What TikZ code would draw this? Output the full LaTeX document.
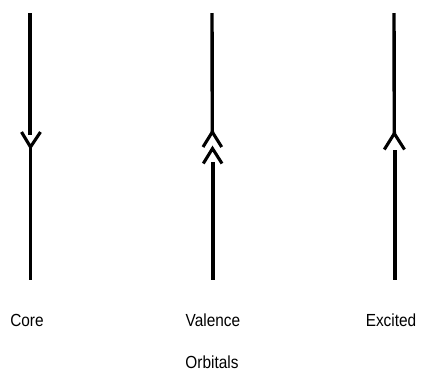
\documentclass[tikz,border=0pt]{standalone}
\usepackage{fontspec}
\setmainfont{Liberation Sans}
\newfontfamily\labfont[FakeStretch=0.88]{Liberation Sans}
\begin{document}
\begin{tikzpicture}[x=1pt,y=-1pt,
  orb/.style={line width=3.4pt},
  chev/.style={line width=3.1pt,line join=miter},
  lab/.style={font=\labfont\fontsize{17.5}{20}\selectfont,inner sep=0pt}]
\useasboundingbox (0,0) rectangle (423,373);
% Core
\coordinate (ct) at (30,13);
\coordinate (cu) at (30,135);
\coordinate (cv) at (30.5,147);
\coordinate (cb) at (30.5,280);
\draw[orb] (ct) -- (cu);
\draw[orb] (cv) -- (cb);
\draw[chev] (21.5,132) -- (cv) -- (40.5,132);
% Valence
\coordinate (vt) at (212,13);
\coordinate (vv1) at (212.3,132);
\coordinate (vv2) at (212.5,148.5);
\coordinate (vl) at (213,162);
\coordinate (vb) at (213,280);
\draw[orb] (vt) -- (vv1);
\draw[orb] (vl) -- (vb);
\draw[chev] (203,147) -- (vv1) -- (221.7,147);
\draw[chev] (203.3,163.5) -- (vv2) -- (222,163.5);
% Excited
\coordinate (et) at (394,13);
\coordinate (ev) at (394.3,133.5);
\coordinate (el) at (395,150);
\coordinate (eb) at (395,280);
\draw[orb] (et) -- (ev);
\draw[orb] (el) -- (eb);
\draw[chev] (384.3,149.5) -- (ev) -- (404.5,149.5);
% Labels
\node[lab] (core) at (27,320) {Core};
\node[lab] (val) at (213,320) {Valence};
\node[lab] (exc) at (391,320) {Excited};
\node[lab] (orbs) at (212,362) {Orbitals};
\end{tikzpicture}
\end{document}
